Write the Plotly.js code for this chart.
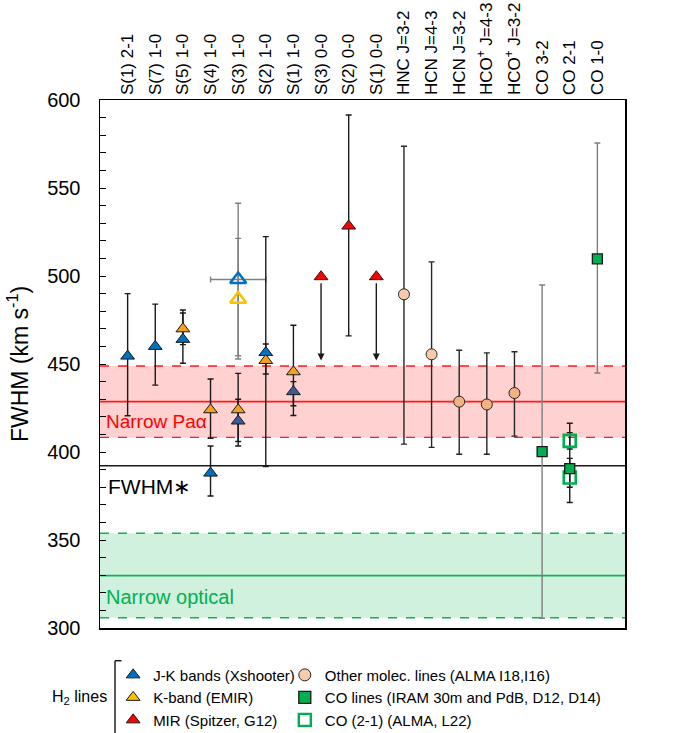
<!DOCTYPE html>
<html><head><meta charset="utf-8">
<script src="https://cdn.plot.ly/plotly-3.0.1.min.js"></script>
<style>html,body{margin:0;padding:0;background:#fff}</style>
</head><body><div id="chart" style="width:678px;height:733px"></div>
<script>
// ---------- data ----------
const categories = ["S(1) 2-1","S(7) 1-0","S(5) 1-0","S(4) 1-0","S(3) 1-0","S(2) 1-0","S(1) 1-0","S(3) 0-0","S(2) 0-0","S(1) 0-0","HNC J=3-2","HCN J=4-3","HCN J=3-2","HCO<sup>+</sup> J=4-3","HCO<sup>+</sup> J=3-2","CO 3-2","CO 2-1","CO 1-0"];

// J-K bands (Xshooter)
const jkCat = ["S(1) 2-1","S(7) 1-0","S(5) 1-0","S(4) 1-0","S(2) 1-0"];
const jkY   = [454.5, 460, 464, 388, 456.5];
const jkHi  = [490, 484, 480.7, 403.4, 461.4];
const jkLo  = [420.6, 438, 450.4, 375, 444.3];
// J-K bands, second set (darker)
const jk2Cat = ["S(3) 1-0","S(1) 1-0"];
const jk2Y   = [417.6, 434.3];
const jk2Hi  = [430, 440];
const jk2Lo  = [403.4, 420.7];
// K-band (EMIR)
const kCat = ["S(5) 1-0","S(4) 1-0","S(3) 1-0","S(2) 1-0","S(1) 1-0"];
const kY   = [470, 424, 424, 452, 445.6];
const kHi  = [479, 441.5, 444.7, 522.4, 472];
const kLo  = [461, 407.8, 406, 391.7, 426.3];
// open triangles (averages)
const openCat = ["S(3) 1-0","S(3) 1-0"];
const openY   = [498, 486.8];
const openHi  = [541.3, 521.4];
const openLo  = [452.8, 454.7];
const openXErr = [1, null];
// MIR (Spitzer, G12)
const mirCat = ["S(3) 0-0","S(2) 0-0","S(1) 0-0"];
const mirY   = [499.6, 528.4, 499.6];
const mirHi  = [null, 591.5, null];
const mirLo  = [null, 466, null];
const mirLimit = [452, null, 452];   // upper limits (arrow tip)
// Other molecular lines (ALMA I18, I16)
const molCat = ["HNC J=3-2","HCN J=4-3","HCN J=3-2","HCO<sup>+</sup> J=4-3","HCO<sup>+</sup> J=3-2"];
const molY   = [489.6, 455.5, 428.6, 427, 433.5];
const molHi  = [573.7, 508, 457.8, 456.3, 457];
const molLo  = [404.5, 402.6, 398.7, 398.7, 409];
// CO lines (IRAM 30m and PdB, D12, D14)
const coCat = ["CO 3-2","CO 2-1","CO 1-0"];
const coY   = [400.2, 390.5, 509.7];
const coHi  = [494.9, 416.3, 575.6];
const coLo  = [305.5, 371.3, 444.9];
// CO (2-1) (ALMA, L22)
const almaCat = ["CO 2-1","CO 2-1"];
const almaY   = [406.3, 385.5];
const almaHi  = [411, 396.4];
const almaLo  = [401.7, 380];
// reference levels
const fwhmStar = 392.2;
const paBand  = [408.3, 428.6, 448.9];
const optBand = [305.8, 329.8, 353.8];

// ---------- styles ----------
const molColors = ['#F8CBAD','#F8CBAD','#F4B183','#F4B183','#F4B183'];
const coErrColors = ['#7f7f7f','#1a1a1a','#7f7f7f'];
const FONT = 'Liberation Sans, Arial, sans-serif';

const pos = c => categories.indexOf(c) + 1;

function errTrace(cat, y, hi, lo, color, xerr) {
  const idx = y.map((v,i)=>i).filter(i=>hi[i]!=null);
  const t = {
    type:'scatter', mode:'markers', showlegend:false, hoverinfo:'skip',
    x: idx.map(i=>pos(cat[i])), y: idx.map(i=>y[i]),
    marker:{size:1, color:'rgba(0,0,0,0)'},
    error_y:{type:'data', symmetric:false, array: idx.map(i=>hi[i]-y[i]), arrayminus: idx.map(i=>y[i]-lo[i]), color:color, thickness:1.4, width:3}
  };
  if (xerr) t.error_x = {type:'data', array: idx.map(i=>xerr[i]), color:color, thickness:1.4, width:3};
  return t;
}
function mk(cat, y, symbol, color, size, lineColor, lineWidth) {
  return {type:'scatter', mode:'markers', showlegend:false,
    x: cat.map(pos), y: y,
    marker:{symbol:symbol, color:color, size:size, line:{color:lineColor, width:lineWidth}}};
}

const traces = [];
// error bars first
openCat.forEach((c,i)=> traces.push(errTrace([c],[openY[i]],[openHi[i]],[openLo[i]], '#7f7f7f', openXErr[i]!=null ? [openXErr[i]] : null)));
traces.push(errTrace(jkCat, jkY, jkHi, jkLo, '#1a1a1a'));
traces.push(errTrace(jk2Cat, jk2Y, jk2Hi, jk2Lo, '#1a1a1a'));
traces.push(errTrace(kCat, kY, kHi, kLo, '#1a1a1a'));
traces.push(errTrace(mirCat, mirY, mirHi, mirLo, '#1a1a1a'));
traces.push(errTrace(molCat, molY, molHi, molLo, '#262626'));
coCat.forEach((c,i)=> traces.push(errTrace([c],[coY[i]],[coHi[i]],[coLo[i]], coErrColors[i])));
traces.push(errTrace(almaCat, almaY, almaHi, almaLo, '#1a1a1a'));
// markers
traces.push(mk([openCat[0]], [openY[0]], 'triangle-up-open', '#0070C0', 14, '#0070C0', 2.6));
traces.push(mk([openCat[1]], [openY[1]], 'triangle-up-open', '#FFC000', 14, '#FFC000', 2.6));
traces.push(mk(jkCat, jkY, 'triangle-up', '#0070C0', 12, '#1a1a1a', 1));
traces.push(mk(kCat, kY, 'triangle-up', '#F7A11A', 12, '#1a1a1a', 1));
traces.push(mk(jk2Cat, jk2Y, 'triangle-up', '#3D5A98', 12, '#1a1a1a', 1));
traces.push(mk(mirCat, mirY, 'triangle-up', '#FF0000', 12, '#1a1a1a', 1));
traces.push(mk(molCat, molY, 'circle', molColors, 11, '#262626', 1));
traces.push(mk(almaCat, almaY, 'square-open', '#00B050', 12, '#00B050', 2.6));
traces.push(mk(coCat, coY, 'square', '#00B050', 10, '#1a1a1a', 1.3));

// legend entries
const leg = (name, symbol, color, lw, lc, legend) => ({type:'scatter', mode:'markers', x:[null], y:[null], name:name, legend:legend,
  marker:{symbol:symbol, color:color, size:12, line:{color:lc, width:lw}}});
traces.push(leg('J-K bands (Xshooter)', 'triangle-up', '#0070C0', 1, '#1a1a1a', 'legend'));
traces.push(leg('K-band (EMIR)', 'triangle-up', '#FFC000', 1, '#1a1a1a', 'legend'));
traces.push(leg('MIR (Spitzer, G12)', 'triangle-up', '#FF0000', 1, '#1a1a1a', 'legend'));
traces.push(leg('Other molec. lines (ALMA I18,I16)', 'circle', '#F8CBAD', 1, '#262626', 'legend2'));
traces.push(leg('CO lines (IRAM 30m and PdB, D12, D14)', 'square', '#00B050', 1.3, '#1a1a1a', 'legend2'));
traces.push(leg('CO (2-1) (ALMA, L22)', 'square-open', '#00B050', 2.4, '#00B050', 'legend2'));

// shapes
const shapes = [];
function band(b, fill, lc) {
  shapes.push({type:'rect', layer:'below', xref:'paper', yref:'y', x0:0, x1:1, y0:b[0], y1:b[2], fillcolor:fill, line:{width:0}});
  shapes.push({type:'line', layer:'below', xref:'paper', yref:'y', x0:0, x1:1, y0:b[0], y1:b[0], line:{color:lc, width:1.4, dash:'dash'}});
  shapes.push({type:'line', layer:'below', xref:'paper', yref:'y', x0:0, x1:1, y0:b[2], y1:b[2], line:{color:lc, width:1.4, dash:'dash'}});
  shapes.push({type:'line', layer:'below', xref:'paper', yref:'y', x0:0, x1:1, y0:b[1], y1:b[1], line:{color:lc, width:1.8}});
}
band(paBand, 'rgba(255,0,0,0.18)', '#FF1A1A');
band(optBand, 'rgba(0,176,80,0.18)', '#12B050');
shapes.push({type:'line', layer:'below', xref:'paper', yref:'y', x0:0, x1:1, y0:fwhmStar, y1:fwhmStar, line:{color:'#1a1a1a', width:1.5}});
// bracket for H2 lines legend
shapes.push({type:'line', xref:'paper', yref:'paper', x0:0.0286, x1:0.0286, y0:-0.062, y1:-0.22, line:{color:'#000', width:1.3}});
shapes.push({type:'line', xref:'paper', yref:'paper', x0:0.0286, x1:0.041, y0:-0.062, y1:-0.062, line:{color:'#000', width:1.3}});

// annotations
const annotations = [
  {xref:'paper', yref:'y', x:0.012, y:380.3, xanchor:'left', yanchor:'middle', showarrow:false, text:'FWHM\u2217', font:{family:FONT, size:21, color:'#000'}},
  {xref:'paper', yref:'y', x:0.008, y:417.2, xanchor:'left', yanchor:'middle', showarrow:false, text:'Narrow Pa\u03b1', font:{family:FONT, size:19, color:'#FF0000'}},
  {xref:'paper', yref:'y', x:0.008, y:317.8, xanchor:'left', yanchor:'middle', showarrow:false, text:'Narrow optical', font:{family:FONT, size:20, color:'#00B050'}},
  {xref:'paper', yref:'paper', x:-0.04, y:-0.131, xanchor:'center', yanchor:'middle', showarrow:false, text:'H<sub>2</sub> lines', font:{family:FONT, size:16, color:'#000'}}
];
mirCat.forEach((c,i)=>{
  if (mirLimit[i]!=null) annotations.push({x:pos(c), y:mirLimit[i], ax:pos(c), ay:mirY[i], xref:'x', yref:'y', axref:'x', ayref:'y',
    showarrow:true, arrowhead:2, arrowsize:1, arrowwidth:1.4, arrowcolor:'#1a1a1a', startstandoff:5, text:''});
});

const layout = {
  width:678, height:733,
  margin:{l:100, r:53, t:100, b:105, autoexpand:false},
  paper_bgcolor:'#fff', plot_bgcolor:'#fff',
  font:{family:FONT, color:'#000'},
  xaxis:{range:[0,19], side:'top', tickvals:categories.map((c,i)=>i+1), ticktext:categories, tickangle:-90,
    tickfont:{family:FONT, size:17, color:'#000'}, ticks:'', showgrid:false, zeroline:false,
    showline:true, mirror:true, linecolor:'#000', linewidth:1.5, fixedrange:true},
  yaxis:{range:[300,600], dtick:50, tick0:300, ticks:'inside', ticklen:6, tickwidth:1, tickcolor:'#000',
    minor:{dtick:10, ticks:'inside', ticklen:6, tickcolor:'#000', tickwidth:1},
    tickfont:{family:FONT, size:20, color:'#000'}, ticklabelstandoff:14,
    title:{text:'FWHM (km s<sup>-1</sup>)', font:{family:FONT, size:23, color:'#000'}, standoff:12},
    showgrid:false, zeroline:false, showline:true, mirror:true, linecolor:'#000', linewidth:1.5},
  showlegend:true,
  legend:{x:0.025, y:-0.058, xanchor:'left', yanchor:'top', orientation:'v', bgcolor:'rgba(0,0,0,0)', font:{family:FONT, size:15, color:'#000'}, tracegroupgap:0},
  legend2:{x:0.352, y:-0.058, xanchor:'left', yanchor:'top', orientation:'v', bgcolor:'rgba(0,0,0,0)', font:{family:FONT, size:15, color:'#000'}, tracegroupgap:0},
  shapes:shapes, annotations:annotations
};
Plotly.newPlot('chart', traces, layout, {displayModeBar:false, staticPlot:true});
</script></body></html>
